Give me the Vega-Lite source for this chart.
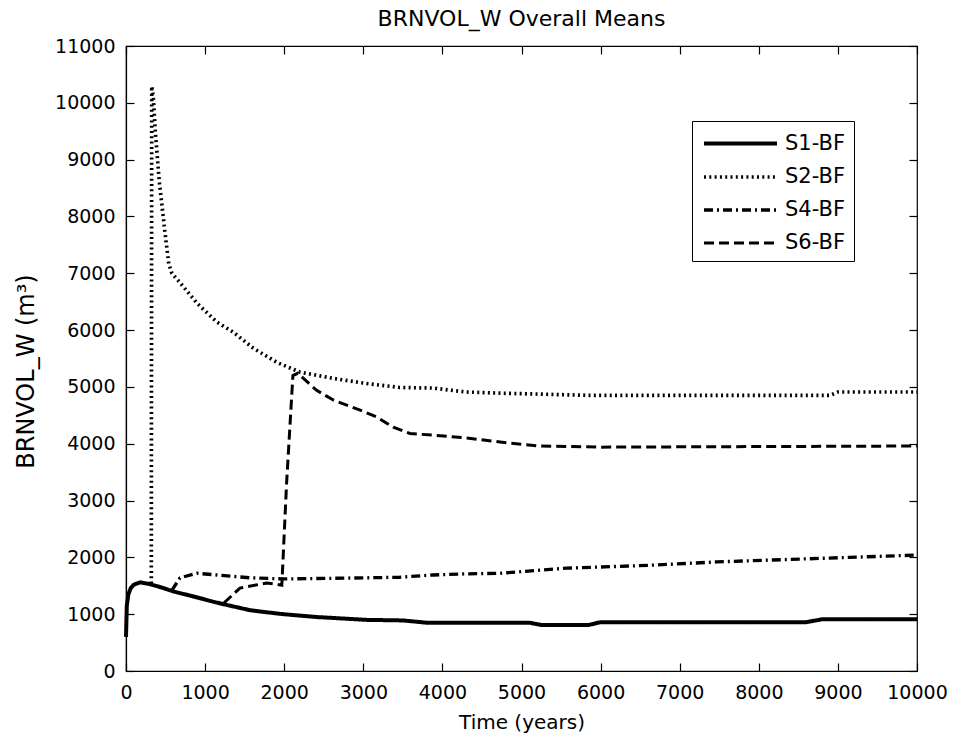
{
  "$schema": "https://vega.github.io/schema/vega-lite/v6.json",
  "width": 791,
  "height": 625,
  "autosize": {"type": "none"},
  "padding": {"left": 126, "top": 46, "right": 39, "bottom": 69},
  "background": "white",
  "title": {"text": "BRNVOL_W Overall Means", "fontSize": 22, "fontWeight": "normal", "font": "DejaVu Sans", "color": "black", "offset": 6},
  "data": {"values": [
    {"s": "S1-BF", "t": 0, "v": 600}, {"s": "S1-BF", "t": 10, "v": 1150}, {"s": "S1-BF", "t": 30, "v": 1350}, {"s": "S1-BF", "t": 60, "v": 1460}, {"s": "S1-BF", "t": 100, "v": 1520}, {"s": "S1-BF", "t": 180, "v": 1560}, {"s": "S1-BF", "t": 300, "v": 1530}, {"s": "S1-BF", "t": 450, "v": 1470}, {"s": "S1-BF", "t": 600, "v": 1400}, {"s": "S1-BF", "t": 800, "v": 1330}, {"s": "S1-BF", "t": 940, "v": 1280}, {"s": "S1-BF", "t": 1100, "v": 1220}, {"s": "S1-BF", "t": 1280, "v": 1160}, {"s": "S1-BF", "t": 1570, "v": 1070}, {"s": "S1-BF", "t": 1800, "v": 1030}, {"s": "S1-BF", "t": 1990, "v": 1000}, {"s": "S1-BF", "t": 2410, "v": 950}, {"s": "S1-BF", "t": 3040, "v": 900}, {"s": "S1-BF", "t": 3500, "v": 890}, {"s": "S1-BF", "t": 3800, "v": 850}, {"s": "S1-BF", "t": 4500, "v": 850}, {"s": "S1-BF", "t": 5100, "v": 850}, {"s": "S1-BF", "t": 5250, "v": 810}, {"s": "S1-BF", "t": 5850, "v": 810}, {"s": "S1-BF", "t": 6000, "v": 860}, {"s": "S1-BF", "t": 7000, "v": 860}, {"s": "S1-BF", "t": 8000, "v": 860}, {"s": "S1-BF", "t": 8600, "v": 860}, {"s": "S1-BF", "t": 8800, "v": 910}, {"s": "S1-BF", "t": 9400, "v": 910}, {"s": "S1-BF", "t": 10000, "v": 910},
    {"s": "S2-BF", "t": 320, "v": 1540}, {"s": "S2-BF", "t": 325, "v": 10290}, {"s": "S2-BF", "t": 345, "v": 10100}, {"s": "S2-BF", "t": 370, "v": 9500}, {"s": "S2-BF", "t": 420, "v": 8630}, {"s": "S2-BF", "t": 490, "v": 7750}, {"s": "S2-BF", "t": 540, "v": 7170}, {"s": "S2-BF", "t": 580, "v": 7000}, {"s": "S2-BF", "t": 680, "v": 6840}, {"s": "S2-BF", "t": 900, "v": 6470}, {"s": "S2-BF", "t": 1150, "v": 6140}, {"s": "S2-BF", "t": 1360, "v": 5960}, {"s": "S2-BF", "t": 1610, "v": 5680}, {"s": "S2-BF", "t": 1910, "v": 5430}, {"s": "S2-BF", "t": 2200, "v": 5260}, {"s": "S2-BF", "t": 2620, "v": 5150}, {"s": "S2-BF", "t": 3040, "v": 5060}, {"s": "S2-BF", "t": 3460, "v": 4990}, {"s": "S2-BF", "t": 3880, "v": 4980}, {"s": "S2-BF", "t": 4300, "v": 4910}, {"s": "S2-BF", "t": 4730, "v": 4890}, {"s": "S2-BF", "t": 5900, "v": 4850}, {"s": "S2-BF", "t": 7000, "v": 4850}, {"s": "S2-BF", "t": 8900, "v": 4850}, {"s": "S2-BF", "t": 9000, "v": 4910}, {"s": "S2-BF", "t": 10000, "v": 4910},
    {"s": "S4-BF", "t": 580, "v": 1420}, {"s": "S4-BF", "t": 683, "v": 1640}, {"s": "S4-BF", "t": 895, "v": 1720}, {"s": "S4-BF", "t": 1150, "v": 1690}, {"s": "S4-BF", "t": 1570, "v": 1640}, {"s": "S4-BF", "t": 1990, "v": 1620}, {"s": "S4-BF", "t": 3040, "v": 1640}, {"s": "S4-BF", "t": 3460, "v": 1650}, {"s": "S4-BF", "t": 3880, "v": 1690}, {"s": "S4-BF", "t": 4300, "v": 1710}, {"s": "S4-BF", "t": 4730, "v": 1720}, {"s": "S4-BF", "t": 5570, "v": 1810}, {"s": "S4-BF", "t": 6620, "v": 1860}, {"s": "S4-BF", "t": 7470, "v": 1920}, {"s": "S4-BF", "t": 8520, "v": 1970}, {"s": "S4-BF", "t": 9150, "v": 2000}, {"s": "S4-BF", "t": 10000, "v": 2040},
    {"s": "S6-BF", "t": 1240, "v": 1200}, {"s": "S6-BF", "t": 1440, "v": 1460}, {"s": "S6-BF", "t": 1780, "v": 1550}, {"s": "S6-BF", "t": 1970, "v": 1510}, {"s": "S6-BF", "t": 2030, "v": 3300}, {"s": "S6-BF", "t": 2110, "v": 5200}, {"s": "S6-BF", "t": 2170, "v": 5240}, {"s": "S6-BF", "t": 2410, "v": 4940}, {"s": "S6-BF", "t": 2620, "v": 4770}, {"s": "S6-BF", "t": 2960, "v": 4590}, {"s": "S6-BF", "t": 3170, "v": 4470}, {"s": "S6-BF", "t": 3380, "v": 4290}, {"s": "S6-BF", "t": 3590, "v": 4180}, {"s": "S6-BF", "t": 3880, "v": 4150}, {"s": "S6-BF", "t": 4310, "v": 4100}, {"s": "S6-BF", "t": 4730, "v": 4030}, {"s": "S6-BF", "t": 5230, "v": 3960}, {"s": "S6-BF", "t": 6000, "v": 3940}, {"s": "S6-BF", "t": 8000, "v": 3950}, {"s": "S6-BF", "t": 10000, "v": 3960}
  ]},
  "layer": [
    {
      "mark": {"type": "line", "color": "black", "opacity": 0},
      "encoding": {
        "x": {"field": "t", "type": "quantitative", "scale": {"domain": [0, 10000], "nice": false},
              "axis": {"orient": "top", "labels": false, "title": null, "values": [0,1000,2000,3000,4000,5000,6000,7000,8000,9000,10000], "tickSize": -8, "tickColor": "black", "domain": false, "grid": false}},
        "y": {"field": "v", "type": "quantitative", "scale": {"domain": [0, 11000], "nice": false},
              "axis": {"orient": "right", "labels": false, "title": null, "values": [0,1000,2000,3000,4000,5000,6000,7000,8000,9000,10000,11000], "tickSize": -8, "tickColor": "black", "domain": false, "grid": false}},
        "detail": {"field": "s"}
      }
    },
    {
      "mark": {"type": "line", "color": "black", "strokeCap": "butt"},
      "encoding": {
        "x": {"field": "t", "type": "quantitative",
              "axis": {"orient": "bottom", "title": "Time (years)", "format": "d", "labelOverlap": false, "labelFlush": false, "values": [0,1000,2000,3000,4000,5000,6000,7000,8000,9000,10000], "tickSize": -8, "tickColor": "black", "domainColor": "black", "grid": false, "labelFont": "DejaVu Sans", "labelFontSize": 19, "labelColor": "black", "labelPadding": 20, "titleFont": "DejaVu Sans", "titleFontSize": 20, "titleFontWeight": "normal", "titleColor": "black", "titlePadding": 10}},
        "y": {"field": "v", "type": "quantitative",
              "axis": {"orient": "left", "title": "BRNVOL_W (m³)", "format": "d", "labelOverlap": false, "labelFlush": false, "values": [0,1000,2000,3000,4000,5000,6000,7000,8000,9000,10000,11000], "tickSize": -8, "tickColor": "black", "domainColor": "black", "grid": false, "labelFont": "DejaVu Sans", "labelFontSize": 19, "labelColor": "black", "labelPadding": 19, "titleFont": "DejaVu Sans", "titleFontSize": 24, "titleFontWeight": "normal", "titleColor": "black", "titlePadding": 16, "titleY": 325}},
        "strokeDash": {"field": "s", "type": "nominal", "title": null,
                       "scale": {"domain": ["S1-BF", "S2-BF", "S4-BF", "S6-BF"], "range": [[1, 0], [2, 3.3], [9, 4, 2, 4], [10, 5]]}},
        "strokeWidth": {"field": "s", "type": "nominal", "title": null,
                       "scale": {"domain": ["S1-BF", "S2-BF", "S4-BF", "S6-BF"], "range": [4, 3, 3, 3]}}
      }
    }
  ],
  "config": {
    "font": "DejaVu Sans",
    "view": {"stroke": "black", "strokeWidth": 1.2},
    "axis": {"domainWidth": 1.2, "tickWidth": 1.2},
    "legend": {
      "orient": "none", "legendX": 566, "legendY": 75,
      "strokeColor": "black", "fillColor": "white", "padding": 8,
      "symbolType": "M-3,0H3", "symbolSize": 592, "symbolStrokeColor": "black", "symbolOffset": 26,
      "labelFont": "DejaVu Sans", "labelFontSize": 21, "labelColor": "black", "labelOffset": 30,
      "rowPadding": 9, "labelLimit": 200
    }
  }
}
